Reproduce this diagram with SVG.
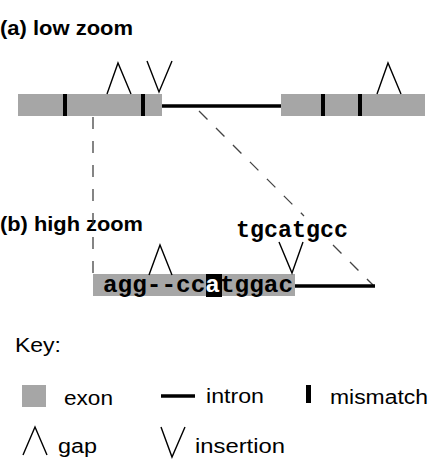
<svg xmlns="http://www.w3.org/2000/svg" width="433" height="474" viewBox="0 0 433 474">
<style>
.exon{fill:#a6a6a6}
.intron{stroke:#000;stroke-width:3.5;fill:none}
.mm{fill:#000}
.mark{stroke:#000;stroke-width:1.4;fill:none}
.dash{stroke:#444;stroke-width:1.3;stroke-dasharray:12 12;fill:none}
.title{font-family:"Liberation Sans",Arial,sans-serif;font-weight:bold;font-size:20px;fill:#000}
.seq{font-family:"Liberation Mono","Courier New",monospace;font-weight:bold;font-size:24px;fill:#000}
.key{font-family:"Liberation Sans",Arial,sans-serif;font-size:20px;fill:#000}
</style>
<rect width="433" height="474" fill="#fff"/>
<text class="title" x="0" y="35" textLength="133" lengthAdjust="spacingAndGlyphs">(a) low zoom</text>
<text class="title" x="0" y="231" textLength="143" lengthAdjust="spacingAndGlyphs">(b) high zoom</text>

<g id="connectors">
<line class="dash" x1="93" y1="117" x2="93" y2="274"/>
<line class="dash" x1="199" y1="111" x2="304" y2="216"/>
<line class="dash" x1="333" y1="245" x2="373" y2="285"/>
</g>

<g id="low-exon1">
<rect class="exon" x="18" y="94" width="144" height="22"/>
<rect class="mm" x="63" y="94" width="4" height="22"/>
<rect class="mm" x="141" y="94" width="4" height="22"/>
<polyline class="mark" points="107,94 118,63 131,94"/>
<polyline class="mark" points="147,61 159,92 172,61"/>
</g>
<g id="low-intron">
<line class="intron" x1="162" y1="106" x2="281" y2="106"/>
</g>
<g id="low-exon2">
<rect class="exon" x="281" y="94" width="144" height="22"/>
<rect class="mm" x="321" y="94" width="4" height="22"/>
<rect class="mm" x="358" y="94" width="4" height="22"/>
<polyline class="mark" points="377,94 388,63 401,94"/>
</g>

<g id="high-exon">
<rect class="exon" x="93" y="274" width="202" height="22"/>
<rect fill="#000" x="206" y="274" width="16" height="23"/>
<text class="seq" x="103" y="292" textLength="190" lengthAdjust="spacingAndGlyphs">agg--cc<tspan fill="#fff">a</tspan>tggac</text>
<polyline class="mark" points="149,275 160,245 172,275"/>
<polyline class="mark" points="279,242 292,273 303,242"/>
</g>
<g id="high-intron">
<line class="intron" x1="295" y1="286" x2="375" y2="286"/>
</g>
<g id="insert-seq">
<text class="seq" x="236" y="237" textLength="112" lengthAdjust="spacingAndGlyphs">tgcatgcc</text>
</g>

<g id="key">
<text class="key" x="15" y="352" textLength="46" lengthAdjust="spacingAndGlyphs">Key:</text>
<rect class="exon" x="22" y="385" width="24" height="22"/>
<text class="key" x="64" y="405" textLength="49" lengthAdjust="spacingAndGlyphs">exon</text>
<line class="intron" x1="161" y1="396" x2="195" y2="396"/>
<text class="key" x="206" y="403" textLength="58" lengthAdjust="spacingAndGlyphs">intron</text>
<rect class="mm" x="306" y="385" width="5" height="18"/>
<text class="key" x="330" y="404" textLength="98" lengthAdjust="spacingAndGlyphs">mismatch</text>
<polyline class="mark" points="23,455 35,427 47,455"/>
<text class="key" x="58" y="453" textLength="39" lengthAdjust="spacingAndGlyphs">gap</text>
<polyline class="mark" points="161,427 172,457 185,427"/>
<text class="key" x="195" y="453" textLength="90" lengthAdjust="spacingAndGlyphs">insertion</text>
</g>
</svg>
